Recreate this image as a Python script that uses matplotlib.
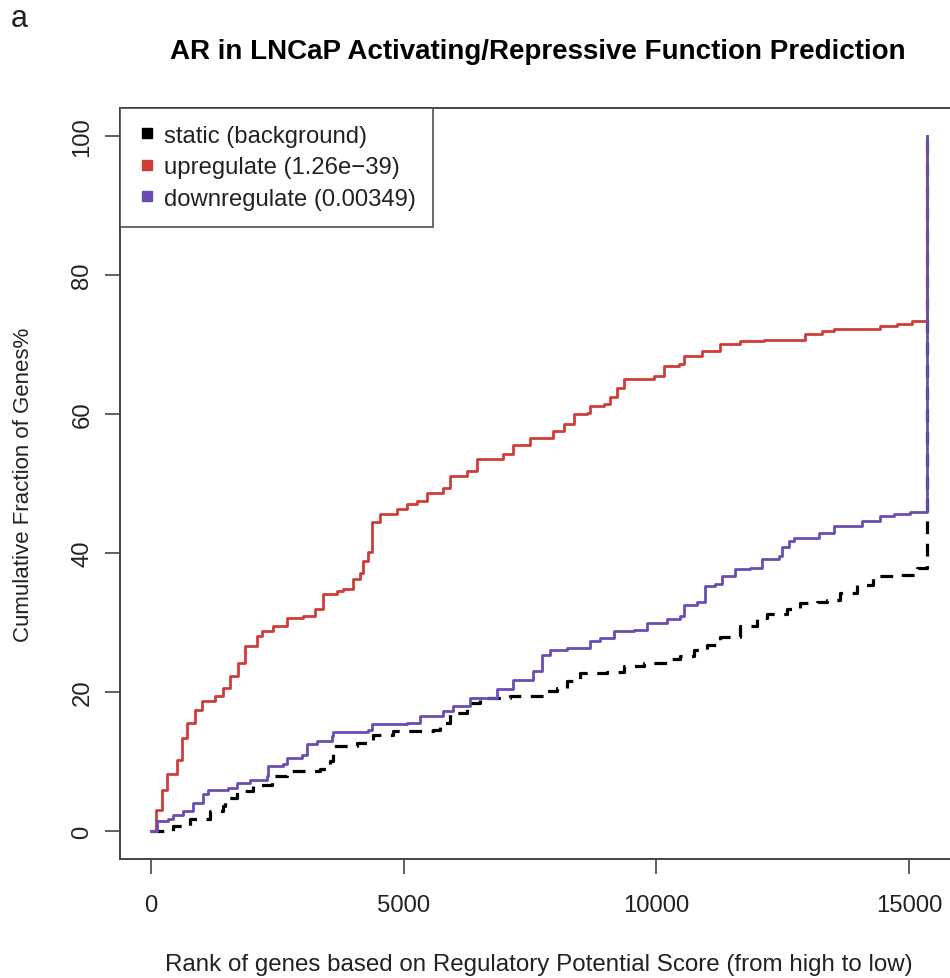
import matplotlib
matplotlib.use("Agg")
import matplotlib.pyplot as plt
from matplotlib.lines import Line2D

plt.rcParams["font.family"] = ["Liberation Sans", "DejaVu Sans"]

# cumulative fraction (%) of genes at each rank, step breakpoints
static_rank = [0, 441, 772, 1167, 1431, 1464, 1696, 2025, 2389, 2686, 3346, 3544, 3610,
               4070, 4398, 4797, 5588, 5720, 5918, 6248, 6511, 7105, 7831, 8029, 8227,
               8491, 9019, 9349, 9745, 10207, 10471, 10735, 11000, 11260, 11656, 11986,
               12184, 12580, 12844, 13174, 13372, 13635, 13966, 14294, 14757, 15153, 15350]
static_pct = [0, 0.7, 1.7, 2.9, 3.6, 4.8, 5.8, 6.7, 7.9, 8.6, 8.9, 10.1, 12.2,
              12.7, 13.9, 14.4, 14.6, 15.6, 17.0, 18.5, 19.1, 19.4, 20.1, 20.6, 21.6,
              22.8, 22.9, 23.8, 24.2, 24.7, 25.2, 26.1, 26.8, 28.0, 29.5, 30.7,
              31.2, 31.9, 32.8, 32.9, 33.3, 34.3, 35.4, 36.7, 36.9, 37.8, 100]

up_rank = [0, 100, 211, 310, 442, 508, 607, 706, 871, 1003, 1267, 1432, 1563, 1728, 1860,
           2092, 2191, 2421, 2685, 3015, 3245, 3410, 3675, 3806, 4004, 4136, 4202, 4301,
           4380, 4532, 4862, 5060, 5258, 5456, 5785, 5917, 6247, 6445, 6973, 7171, 7501,
           7963, 8161, 8359, 8623, 8689, 8953, 9085, 9217, 9349, 9943, 10141, 10438,
           10537, 10899, 11261, 11657, 12118, 12943, 13273, 13504, 14428, 14758, 15054,
           15350]
up_pct = [0, 3.0, 6.0, 8.2, 8.2, 10.3, 13.4, 15.6, 17.5, 18.7, 19.4, 20.6, 22.3, 24.2, 26.6,
          28.1, 28.8, 29.5, 30.7, 30.9, 31.9, 34.1, 34.5, 34.8, 36.2, 37.2, 38.8, 40.1,
          44.4, 45.6, 46.3, 47.0, 47.5, 48.6, 49.4, 51.1, 51.8, 53.5, 54.2, 55.6, 56.6,
          57.6, 58.5, 60.0, 60.2, 61.2, 61.4, 62.4, 63.8, 65.0, 65.5, 66.9, 67.2,
          68.3, 69.1, 70.0, 70.5, 70.7, 71.5, 71.9, 72.2, 72.7, 73.0, 73.4,
          100]

down_rank = [0, 112, 342, 441, 639, 837, 1035, 1134, 1530, 1695, 1959, 2289, 2322, 2619,
             2685, 2982, 3081, 3279, 3576, 3609, 4302, 4368, 5060, 5324, 5785, 5983, 6313,
             6841, 7171, 7567, 7732, 7897, 8227, 8689, 8887, 9151, 9547, 9811, 10207,
             10471, 10537, 10801, 10966, 11164, 11296, 11560, 11857, 12088, 12418, 12484,
             12616, 12715, 13111, 13210, 13507, 14068, 14428, 14692, 15022, 15350]
down_pct = [0, 1.4, 1.7, 2.4, 2.9, 4.1, 5.3, 6.0, 6.2, 7.0, 7.4, 7.9, 9.4, 9.6,
            10.6, 11.0, 12.5, 13.0, 13.7, 14.2, 14.6, 15.4, 15.6, 16.6, 17.3, 18.0, 19.2,
            20.4, 21.8, 23.0, 25.4, 26.1, 26.4, 27.3, 27.8, 28.8, 29.0, 30.0, 30.5,
            30.9, 32.5, 32.9, 35.3, 35.5, 36.7, 37.7, 37.9, 39.2, 39.6, 40.8,
            41.7, 42.2, 42.2, 42.9, 43.9, 44.6, 45.3, 45.6, 45.9, 100]

labels = ["static (background)", "upregulate (1.26e\u221239)", "downregulate (0.00349)"]
colors = ["black", "#cf3d38", "#6a4db2"]

fig = plt.figure(figsize=(9.5, 9.79), dpi=100)
ax = fig.add_axes([0.1263, 0.1215, 0.8819, 0.7672])

ax.step(static_rank, static_pct, where="post", color=colors[0], lw=2.3,
        linestyle=(0, (4, 3)))
ax.step(up_rank, up_pct, where="post", color=colors[1], lw=2.0)
ax.step(down_rank, down_pct, where="post", color=colors[2], lw=2.0)

ax.set_xlim(-614, 15962)
ax.set_ylim(-4, 104)
ax.set_xticks([0, 5000, 10000, 15000])
ax.set_yticks([0, 20, 40, 60, 80, 100])

for sp in ax.spines.values():
    sp.set_color("#444444")
    sp.set_linewidth(1.4)
ax.tick_params(axis="both", length=11, width=1.2, color="#444444",
               labelsize=17.2, labelcolor="#222222")
ax.tick_params(axis="x", pad=14)
ax.tick_params(axis="y", pad=16)
for lab in ax.get_yticklabels():
    lab.set_rotation(90)
    lab.set_va("center")
    lab.set_ha("center")

ax.set_xlabel("Rank of genes based on Regulatory Potential Score (from high to low)",
              fontsize=17.4, color="#222222", labelpad=27)
ax.set_ylabel("Cumulative Fraction of Genes%", fontsize=16, color="#222222", labelpad=27)

fig.text(0.5663, 0.947, "AR in LNCaP Activating/Repressive Function Prediction",
         ha="center", va="center", fontsize=20, fontweight="bold")
fig.text(0.011, 0.981, "a", ha="left", va="center", fontsize=22, color="#222222")

handles = [Line2D([], [], marker="s", linestyle="none", color=c, markersize=7.5) for c in colors]
leg = ax.legend(handles, labels, loc="upper left", borderaxespad=0, fontsize=17.2,
                frameon=True, fancybox=False, handletextpad=0.25, handlelength=0.9,
                labelspacing=0.4, borderpad=0.7)
leg.get_frame().set_edgecolor("#444444")
leg.get_frame().set_linewidth(1.4)
for t in leg.get_texts():
    t.set_color("#222222")

fig.savefig("out.png", dpi=100)
